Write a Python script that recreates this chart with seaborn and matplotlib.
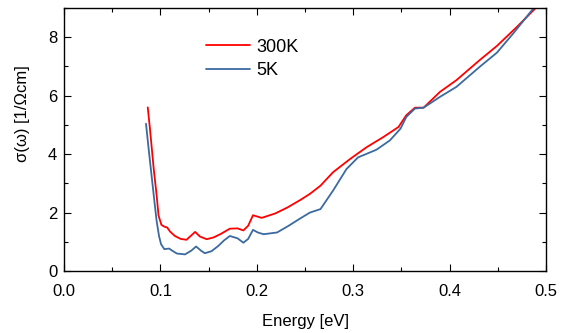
import matplotlib
matplotlib.use("Agg")
import matplotlib.pyplot as plt
import seaborn as sns
import pandas as pd
from matplotlib.ticker import MultipleLocator

# values
energy_300 = [0.0868, 0.089, 0.091, 0.093, 0.096, 0.098, 0.101, 0.104, 0.107, 0.110,
              0.115, 0.121, 0.127, 0.132, 0.136, 0.141, 0.148, 0.155, 0.162,
              0.172, 0.180, 0.186, 0.191, 0.196, 0.205, 0.219, 0.232, 0.245, 0.255,
              0.266, 0.279, 0.297, 0.314, 0.331, 0.347, 0.355, 0.364, 0.373, 0.390,
              0.407, 0.432, 0.449, 0.470, 0.489]
sigma_300 = [5.60, 4.90, 4.20, 3.50, 2.60, 1.90, 1.58, 1.52, 1.49, 1.35,
             1.20, 1.10, 1.07, 1.22, 1.34, 1.18, 1.09, 1.15, 1.26,
             1.45, 1.46, 1.39, 1.55, 1.91, 1.82, 1.97, 2.18, 2.43, 2.64,
             2.92, 3.38, 3.84, 4.24, 4.58, 4.93, 5.33, 5.59, 5.59, 6.13,
             6.53, 7.24, 7.70, 8.36, 8.99]

energy_5 = [0.085, 0.088, 0.091, 0.094, 0.096, 0.0985, 0.1006, 0.104, 0.109, 0.113,
            0.117, 0.1255, 0.132, 0.137, 0.142, 0.146, 0.153,
            0.160, 0.166, 0.172, 0.180, 0.186, 0.191, 0.196, 0.201, 0.207, 0.221,
            0.233, 0.245, 0.255, 0.266, 0.279,
            0.293, 0.305, 0.324, 0.338, 0.349, 0.355, 0.364, 0.373, 0.390, 0.407,
            0.432, 0.449, 0.466, 0.487]
sigma_5 = [5.04, 4.10, 3.20, 2.30, 1.72, 1.20, 0.92, 0.75, 0.77, 0.68,
           0.60, 0.57, 0.70, 0.84, 0.70, 0.61, 0.68,
           0.86, 1.05, 1.20, 1.12, 0.97, 1.10, 1.41, 1.32, 1.26, 1.32,
           1.55, 1.80, 2.00, 2.12, 2.75,
           3.49, 3.89, 4.15, 4.47, 4.87, 5.27, 5.56, 5.59, 5.96, 6.30,
           7.01, 7.47, 8.13, 8.99]

df = pd.concat([
    pd.DataFrame({"energy": energy_300, "sigma": sigma_300, "T": "300K"}),
    pd.DataFrame({"energy": energy_5, "sigma": sigma_5, "T": "5K"}),
])

sns.set_style("ticks")
plt.rcParams["font.family"] = ["Liberation Sans", "DejaVu Sans"]
plt.rcParams["text.color"] = "black"
plt.rcParams["axes.labelcolor"] = "black"
plt.rcParams["xtick.color"] = "black"
plt.rcParams["ytick.color"] = "black"
plt.rcParams["axes.edgecolor"] = "black"

fig = plt.figure(figsize=(5.67, 3.33), dpi=100)
ax = fig.add_axes([0.113, 0.186, 0.85, 0.79])

sns.lineplot(data=df, x="energy", y="sigma", hue="T", sort=False,
             palette={"300K": "#ff0000", "5K": "#3b6aa0"}, linewidth=1.3, ax=ax)

ax.set_xlim(0, 0.5)
ax.set_ylim(0, 9)
ax.xaxis.set_major_locator(MultipleLocator(0.1))
ax.xaxis.set_minor_locator(MultipleLocator(0.05))
ax.yaxis.set_major_locator(MultipleLocator(2))
ax.yaxis.set_minor_locator(MultipleLocator(1))
ax.xaxis.set_major_formatter(plt.FormatStrFormatter("%.1f"))
ax.tick_params(which="both", direction="in", top=True, right=True, labelsize=12, width=0.8)
ax.tick_params(which="major", length=5)
ax.tick_params(which="minor", length=3)
ax.tick_params(axis="x", pad=9)
ax.tick_params(axis="y", pad=5)
for s in ax.spines.values():
    s.set_linewidth(1.0)

ax.set_xlabel("Energy [eV]", fontsize=12, labelpad=11)
ax.set_ylabel("σ(ω) [1/Ωcm]", fontsize=12)
ax.yaxis.set_label_coords(-0.07, 0.60)

leg = ax.legend(loc="upper left", bbox_to_anchor=(0.295, 0.883), frameon=False,
                fontsize=13, handlelength=2.45, handletextpad=0.3, labelspacing=0.35,
                borderpad=0, borderaxespad=0)
leg.set_title(None)

fig.savefig("out.png", dpi=100)
